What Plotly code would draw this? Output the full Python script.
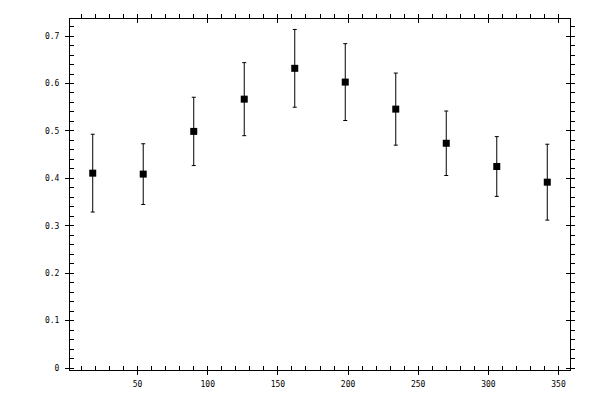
import plotly.graph_objects as go

# data
angle = [18, 54, 90, 126, 162, 198, 234, 270, 306, 342]
value = [0.411, 0.409, 0.499, 0.567, 0.632, 0.603, 0.546, 0.474, 0.425, 0.392]
error = [0.082, 0.064, 0.072, 0.077, 0.082, 0.081, 0.076, 0.068, 0.063, 0.080]

xrange = [1.8, 358.2]
yrange = [-0.004, 0.736]

tickfont = dict(family='DejaVu Sans Mono', size=8, color='black')

fig = go.Figure()
fig.add_trace(go.Scatter(
    x=angle, y=value, mode='markers',
    marker=dict(symbol='square', size=7, color='black'),
    error_y=dict(type='data', array=error, visible=True,
                 color='black', thickness=1, width=2),
    showlegend=False))

# empty traces so the overlay axes get drawn
for n in (2, 3, 4):
    fig.add_trace(go.Scatter(x=[None], y=[None], xaxis='x%d' % n,
                             yaxis='y%d' % n, mode='markers',
                             hoverinfo='skip', showlegend=False))


def xaxis(side, major, minor, labels=False, overlay=True):
    d = dict(range=xrange, side=side, showgrid=False, zeroline=False,
             showline=True, linecolor='black', linewidth=1,
             tick0=0, dtick=50, ticks=major, ticklen=4, tickwidth=1,
             tickcolor='black', showticklabels=labels, tickfont=tickfont,
             ticklabelstandoff=2,
             minor=dict(dtick=10, ticks=minor, ticklen=4, tickwidth=1,
                        tickcolor='black', showgrid=False))
    if overlay:
        d['overlaying'] = 'x'
    return d


def yaxis(side, major, minor, labels=False, overlay=True):
    d = dict(range=yrange, side=side, showgrid=False, zeroline=False,
             showline=True, linecolor='black', linewidth=1,
             tick0=0, dtick=0.1, ticks=major, ticklen=4, tickwidth=1,
             tickcolor='black', showticklabels=labels, tickfont=tickfont,
             ticklabelstandoff=4,
             minor=dict(dtick=0.02, ticks=minor, ticklen=4, tickwidth=1,
                        tickcolor='black', showgrid=False))
    if overlay:
        d['overlaying'] = 'y'
    return d


# major ticks cross the frame, minor ticks all point up / right
fig.update_layout(
    xaxis=xaxis('bottom', 'outside', 'inside', labels=True, overlay=False),
    xaxis2=xaxis('top', 'outside', 'outside'),
    xaxis3=xaxis('bottom', 'inside', ''),
    xaxis4=xaxis('top', 'inside', ''),
    yaxis=yaxis('left', 'outside', 'inside', labels=True, overlay=False),
    yaxis2=yaxis('right', 'outside', 'outside'),
    yaxis3=yaxis('left', 'inside', ''),
    yaxis4=yaxis('right', 'inside', ''),
    width=600, height=400,
    # page body adds ~8px, so margins are shifted up/left
    margin=dict(l=62, r=38, t=11, b=38, autoexpand=False),
    paper_bgcolor='white',
    plot_bgcolor='white',
)

fig.write_html("out.html")
